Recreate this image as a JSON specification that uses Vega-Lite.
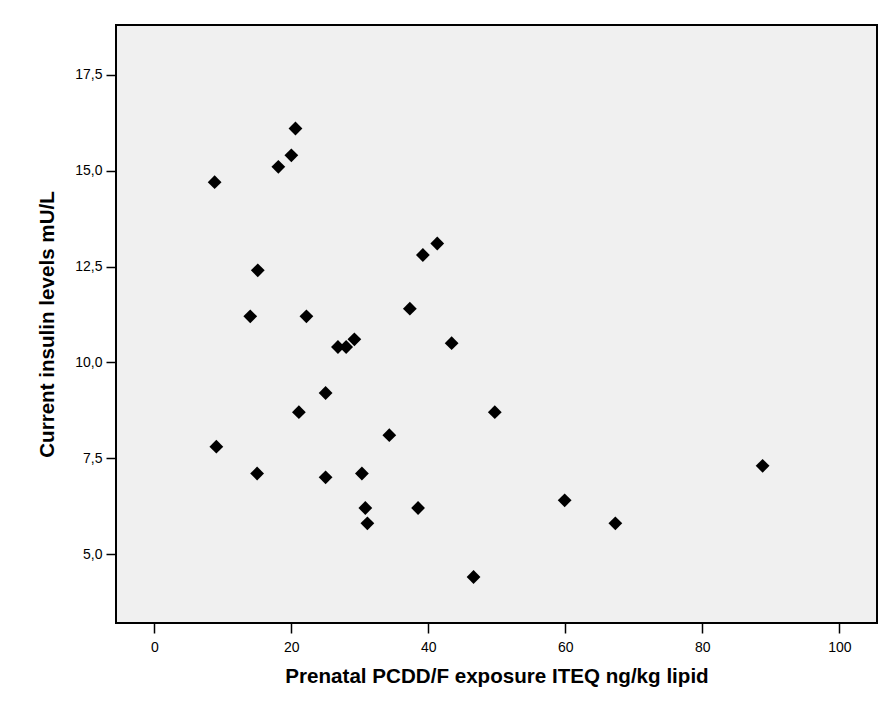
{
  "$schema": "https://vega.github.io/schema/vega-lite/v6.json",
  "width": 761,
  "height": 598,
  "autosize": {"type": "none"},
  "padding": {"left": 116, "top": 25, "right": 11, "bottom": 87},
  "background": "#ffffff",
  "config": {
    "font": "Liberation Sans",
    "view": {"fill": "#f0f0f0", "stroke": "#000000", "strokeWidth": 2},
    "axis": {
      "domain": false,
      "grid": false,
      "ticks": true,
      "tickColor": "#000000",
      "tickWidth": 1.5,
      "tickSize": 10,
      "labelColor": "#000000",
      "labelFont": "Liberation Sans",
      "labelFontSize": 14,
      "titleFont": "Liberation Sans",
      "titleFontSize": 20.6,
      "titleFontWeight": "bold",
      "titleColor": "#000000"
    }
  },
  "data": {
    "values": [
      {"exposure": 8.8, "insulin": 14.7},
      {"exposure": 18.1, "insulin": 15.1},
      {"exposure": 20.0, "insulin": 15.4},
      {"exposure": 20.6, "insulin": 16.1},
      {"exposure": 15.1, "insulin": 12.4},
      {"exposure": 14.0, "insulin": 11.2},
      {"exposure": 22.2, "insulin": 11.2},
      {"exposure": 26.8, "insulin": 10.4},
      {"exposure": 28.0, "insulin": 10.4},
      {"exposure": 29.2, "insulin": 10.6},
      {"exposure": 37.3, "insulin": 11.4},
      {"exposure": 39.2, "insulin": 12.8},
      {"exposure": 41.3, "insulin": 13.1},
      {"exposure": 43.4, "insulin": 10.5},
      {"exposure": 25.0, "insulin": 9.2},
      {"exposure": 21.1, "insulin": 8.7},
      {"exposure": 49.7, "insulin": 8.7},
      {"exposure": 9.05, "insulin": 7.8},
      {"exposure": 34.3, "insulin": 8.1},
      {"exposure": 15.0, "insulin": 7.1},
      {"exposure": 25.0, "insulin": 7.0},
      {"exposure": 30.3, "insulin": 7.1},
      {"exposure": 30.8, "insulin": 6.2},
      {"exposure": 38.5, "insulin": 6.2},
      {"exposure": 31.1, "insulin": 5.8},
      {"exposure": 46.6, "insulin": 4.4},
      {"exposure": 88.8, "insulin": 7.3},
      {"exposure": 59.9, "insulin": 6.4},
      {"exposure": 67.3, "insulin": 5.8}
    ]
  },
  "mark": {"type": "point", "shape": "diamond", "filled": true, "color": "#000000", "opacity": 1, "size": 190},
  "encoding": {
    "x": {
      "field": "exposure",
      "type": "quantitative",
      "scale": {"domain": [-5.6, 105.5], "nice": false, "zero": false},
      "axis": {
        "values": [0, 20, 40, 60, 80, 100],
        "format": "d",
        "labelPadding": 7,
        "title": "Prenatal PCDD/F exposure ITEQ ng/kg lipid",
        "titlePadding": 12
      }
    },
    "y": {
      "field": "insulin",
      "type": "quantitative",
      "scale": {"domain": [3.2, 18.8], "nice": false, "zero": false},
      "axis": {
        "values": [5, 7.5, 10, 12.5, 15, 17.5],
        "labelExpr": "replace(format(datum.value, '.1f'), '.', ',')",
        "labelPadding": 4,
        "title": "Current insulin levels mU/L",
        "titlePadding": 17
      }
    }
  }
}
